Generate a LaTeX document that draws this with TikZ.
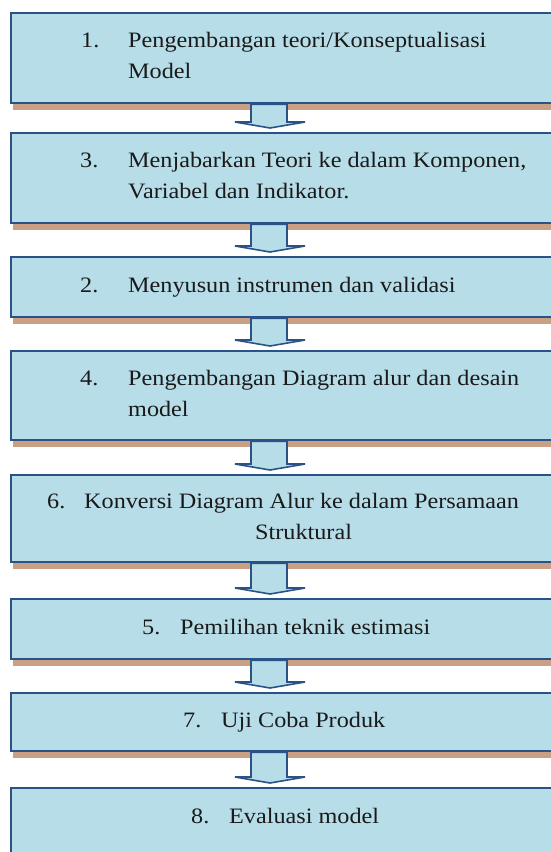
\documentclass[tikz,border=0pt]{standalone}
\usepackage{fontspec}
\setmainfont{Liberation Serif}[FakeStretch=1.1]
\usetikzlibrary{calc,shadows}
\definecolor{boxfill}{HTML}{B7DDE8}
\definecolor{boxline}{HTML}{2A5287}
\definecolor{shadowtan}{HTML}{C9A084}
\definecolor{txtcol}{HTML}{1A1A1A}
\tikzset{
  stage/.style={draw=boxline, fill=boxfill, line width=2.3pt, rectangle,
    anchor=north west, inner sep=0pt, minimum width=560pt,
    drop shadow={shadow xshift=2pt, shadow yshift=-6.5pt, fill=shadowtan, opacity=1}},
  lastst/.style={draw=boxline, fill=boxfill, line width=2.3pt, rectangle,
    anchor=north west, inner sep=0pt, minimum width=560pt},
  txt/.style={anchor=base west, inner sep=0pt, text=txtcol,
    font=\fontsize{22}{31}\selectfont},
  blockarr/.style={draw=boxline, fill=boxfill, line width=1.6pt, line join=miter}
}
\newcommand\flowarrow[2]{%
  \path[blockarr] let \p1=(#1.south), \p2=(#2.north) in
    (251pt,\y1) -- (287pt,\y1) -- (287pt,\y2+10pt) -- (305pt,\y2+10pt)
    -- (270pt,\y2+4pt) -- (235pt,\y2+10pt) -- (251pt,\y2+10pt) -- cycle;}
\begin{document}
\begin{tikzpicture}[x=1pt,y=-1pt]
\useasboundingbox (0,0) rectangle (551,852);
\clip (0,0) rectangle (551,852);
% boxes
\node[stage, minimum height=90pt] (b1) at (10,12) {};
\node[stage, minimum height=90pt] (b2) at (10,132) {};
\node[stage, minimum height=60pt] (b3) at (10,256) {};
\node[stage, minimum height=89pt] (b4) at (10,350) {};
\node[stage, minimum height=87pt] (b5) at (10,474) {};
\node[stage, minimum height=60pt] (b6) at (10,598) {};
\node[stage, minimum height=58pt] (b7) at (10,692) {};
\node[lastst, minimum height=95pt] (b8) at (10,787) {};
% arrows
\flowarrow{b1}{b2}
\flowarrow{b2}{b3}
\flowarrow{b3}{b4}
\flowarrow{b4}{b5}
\flowarrow{b5}{b6}
\flowarrow{b6}{b7}
\flowarrow{b7}{b8}
% texts
\node[txt] (n1) at (81,47) {1.};
\node[txt] (t1a) at (128,47) {Pengembangan teori/Konseptualisasi};
\node[txt] (t1b) at (128,78) {Model};
\node[txt] (n2) at (80,167) {3.};
\node[txt] (t2a) at (128,167) {Menjabarkan Teori ke dalam Komponen,};
\node[txt] (t2b) at (128,198) {Variabel dan Indikator.};
\node[txt] (n3) at (80,292) {2.};
\node[txt] (t3a) at (128,292) {Menyusun instrumen dan validasi};
\node[txt] (n4) at (80,385) {4.};
\node[txt] (t4a) at (128,385) {Pengembangan Diagram alur dan desain};
\node[txt] (t4b) at (128,416) {model};
\node[txt] (n5) at (47,508) {6.};
\node[txt] (t5a) at (84,508) {Konversi Diagram Alur ke dalam Persamaan};
\node[txt] (t5b) at (255,539) {Struktural};
\node[txt] (n6) at (142,634) {5.};
\node[txt] (t6a) at (180,634) {Pemilihan teknik estimasi};
\node[txt] (n7) at (183,727) {7.};
\node[txt] (t7a) at (221,727) {Uji Coba Produk};
\node[txt] (n8) at (191,823) {8.};
\node[txt] (t8a) at (229,823) {Evaluasi model};
\end{tikzpicture}
\end{document}
